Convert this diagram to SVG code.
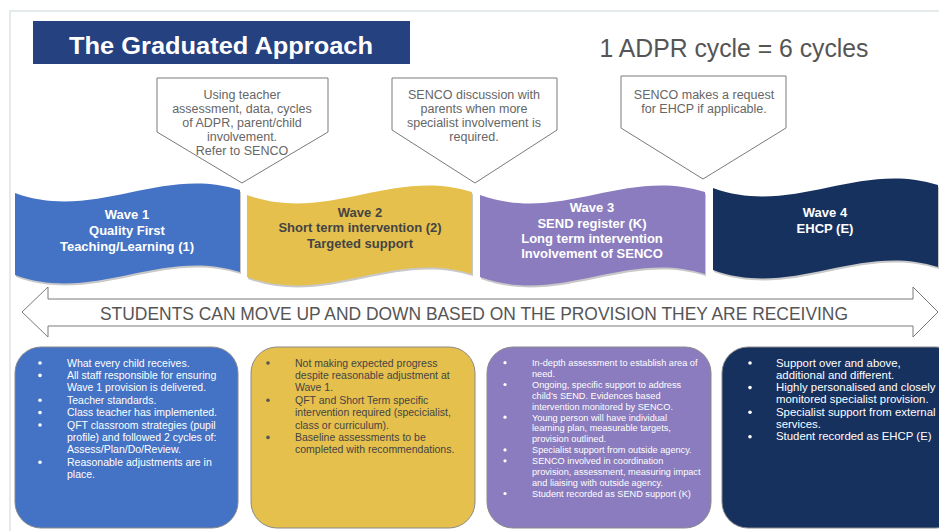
<svg xmlns="http://www.w3.org/2000/svg" width="939" height="531" viewBox="0 0 939 531">
<style>
.callout{fill:#fff;stroke:#7a7a7a;stroke-width:1}
.ct{font-family:"Liberation Sans",Arial,sans-serif;font-size:12.5px;fill:#666;text-anchor:middle}
.wt{font-family:"Liberation Sans",Arial,sans-serif;font-size:13px;font-weight:bold;text-anchor:middle}
.bx{stroke:#8a8a8a;stroke-width:1}
.bt{font-family:"Liberation Sans",Arial,sans-serif}
</style>
<defs>
<path id="wave" d="M0,193 C80,222 145,165 225,190 L225,272 C145,247 80,304 0,275 Z"/>
</defs>
<rect x="0" y="0" width="939" height="531" fill="#fff"/>
<path d="M10,531 L10,11 L939,11" fill="none" stroke="#dde4e6" stroke-width="1.5"/>

<g id="title">
<rect x="33" y="21" width="377" height="43" fill="#25417F"/>
<text x="221" y="54" font-family="'Liberation Sans',Arial,sans-serif" font-size="24" font-weight="bold" fill="#fff" text-anchor="middle" textLength="304" lengthAdjust="spacingAndGlyphs">The Graduated Approach</text>
</g>
<g id="cycle-note">
<text x="734" y="57" font-family="'Liberation Sans',Arial,sans-serif" font-size="25" fill="#555" text-anchor="middle" textLength="269" lengthAdjust="spacingAndGlyphs">1 ADPR cycle = 6 cycles</text>
</g>

<g id="callout1">
<polygon class="callout" points="157,78 328,78 328,132 242,183 157,132"/>
<text class="ct"><tspan x="242" y="99">Using teacher</tspan><tspan x="242" y="113">assessment, data, cycles</tspan><tspan x="242" y="127">of ADPR, parent/child</tspan><tspan x="242" y="141">involvement.</tspan><tspan x="242" y="155">Refer to SENCO</tspan></text>
</g>
<g id="callout2">
<polygon class="callout" points="392,78 557,78 557,130 475,183 392,130"/>
<text class="ct"><tspan x="474" y="99">SENCO discussion with</tspan><tspan x="474" y="113">parents when more</tspan><tspan x="474" y="127">specialist involvement is</tspan><tspan x="474" y="141">required.</tspan></text>
</g>
<g id="callout3">
<polygon class="callout" points="621,76 786,76 786,128 703,179 621,128"/>
<text class="ct"><tspan x="704" y="99">SENCO makes a request</tspan><tspan x="704" y="113">for EHCP if applicable.</tspan></text>
</g>

<g id="wave1">
<use href="#wave" transform="translate(16,2)" fill="#c8c8c8"/>
<use href="#wave" transform="translate(15,0)" fill="#4472C4"/>
<text class="wt" fill="#fff"><tspan x="127" y="219">Wave 1</tspan><tspan x="127" y="235">Quality First</tspan><tspan x="127" y="251">Teaching/Learning (1)</tspan></text>
</g>
<g id="wave2">
<use href="#wave" transform="translate(248,4)" fill="#c8c8c8"/>
<use href="#wave" transform="translate(247,2)" fill="#E5C04D"/>
<text class="wt" fill="#444"><tspan x="360" y="217">Wave 2</tspan><tspan x="360" y="232">Short term intervention (2)</tspan><tspan x="360" y="248">Targeted support</tspan></text>
</g>
<g id="wave3">
<use href="#wave" transform="translate(481,4)" fill="#c8c8c8"/>
<use href="#wave" transform="translate(480,2)" fill="#8A7CBE"/>
<text class="wt" fill="#fff"><tspan x="592" y="212">Wave 3</tspan><tspan x="592" y="228">SEND register (K)</tspan><tspan x="592" y="243">Long term intervention</tspan><tspan x="592" y="258">Involvement of SENCO</tspan></text>
</g>
<g id="wave4">
<use href="#wave" transform="translate(714,-3)" fill="#c8c8c8"/>
<use href="#wave" transform="translate(713,-5)" fill="#17315F"/>
<text class="wt" fill="#fff"><tspan x="825" y="217">Wave 4</tspan><tspan x="825" y="233">EHCP (E)</tspan></text>
</g>

<g id="connectors">
<polygon points="22,312 48,287 48,299 913,299 913,287 938,312 913,337 913,326 48,326 48,337" fill="#fff" stroke="#7a7a7a" stroke-width="1"/>
<text x="474" y="320" font-family="'Liberation Sans',Arial,sans-serif" font-size="18" fill="#555" text-anchor="middle" textLength="748" lengthAdjust="spacingAndGlyphs">STUDENTS CAN MOVE UP AND DOWN BASED ON THE PROVISION THEY ARE RECEIVING</text>
</g>

<g id="box1">
<rect class="bx" x="15" y="347" width="223" height="181" rx="26" fill="#4472C4"/>
<g fill="#fff"><circle cx="40" cy="363" r="1.8"/><circle cx="40" cy="375.4" r="1.8"/><circle cx="40" cy="400.2" r="1.8"/><circle cx="40" cy="412.6" r="1.8"/><circle cx="40" cy="425" r="1.8"/><circle cx="40" cy="462.2" r="1.8"/></g>
<text class="bt" font-size="10.5" fill="#fff"><tspan x="67" y="366.5">What every child receives.</tspan><tspan x="67" y="378.9">All staff responsible for ensuring</tspan><tspan x="67" y="391.3">Wave 1 provision is delivered.</tspan><tspan x="67" y="403.7">Teacher standards.</tspan><tspan x="67" y="416.1">Class teacher has implemented.</tspan><tspan x="67" y="428.5">QFT classroom strategies (pupil</tspan><tspan x="67" y="440.9">profile) and followed 2 cycles of:</tspan><tspan x="67" y="453.3">Assess/Plan/Do/Review.</tspan><tspan x="67" y="465.7">Reasonable adjustments are in</tspan><tspan x="67" y="478.1">place.</tspan></text>
</g>
<g id="box2">
<rect class="bx" x="251" y="347" width="224" height="181" rx="26" fill="#E5C04D"/>
<g fill="#555"><circle cx="268" cy="363" r="1.8"/><circle cx="268" cy="400.2" r="1.8"/><circle cx="268" cy="437.4" r="1.8"/></g>
<text class="bt" font-size="10.5" fill="#444"><tspan x="295" y="366.5">Not making expected progress</tspan><tspan x="295" y="378.9">despite reasonable adjustment at</tspan><tspan x="295" y="391.3">Wave 1.</tspan><tspan x="295" y="403.7">QFT and Short Term specific</tspan><tspan x="295" y="416.1">intervention required (specicialist,</tspan><tspan x="295" y="428.5">class or curriculum).</tspan><tspan x="295" y="440.9">Baseline assessments to be</tspan><tspan x="295" y="453.3">completed with recommendations.</tspan></text>
</g>
<g id="box3">
<rect class="bx" x="487" y="347" width="224" height="181" rx="26" fill="#8A7CBE"/>
<g fill="#fff"><circle cx="505" cy="362.7" r="1.6"/><circle cx="505" cy="384.5" r="1.6"/><circle cx="505" cy="417.2" r="1.6"/><circle cx="505" cy="449.9" r="1.6"/><circle cx="505" cy="460.8" r="1.6"/><circle cx="505" cy="493.5" r="1.6"/></g>
<text class="bt" font-size="9.2" fill="#fff"><tspan x="532" y="366">In-depth assessment to establish area of</tspan><tspan x="532" y="376.9">need.</tspan><tspan x="532" y="387.8">Ongoing, specific support to address</tspan><tspan x="532" y="398.7">child’s SEND. Evidences based</tspan><tspan x="532" y="409.6">intervention monitored by SENCO.</tspan><tspan x="532" y="420.5">Young person will have individual</tspan><tspan x="532" y="431.4">learning plan, measurable targets,</tspan><tspan x="532" y="442.3">provision outlined.</tspan><tspan x="532" y="453.2">Specialist support from outside agency.</tspan><tspan x="532" y="464.1">SENCO involved in coordination</tspan><tspan x="532" y="475">provision, assessment, measuring impact</tspan><tspan x="532" y="485.9">and liaising with outside agency.</tspan><tspan x="532" y="496.8">Student recorded as SEND support (K)</tspan></text>
</g>
<g id="box4">
<rect class="bx" x="722" y="347" width="240" height="181" rx="26" fill="#17315F"/>
<g fill="#fff"><circle cx="750" cy="363" r="1.8"/><circle cx="750" cy="387.6" r="1.8"/><circle cx="750" cy="412.2" r="1.8"/><circle cx="750" cy="436.8" r="1.8"/></g>
<text class="bt" font-size="11.4" fill="#fff"><tspan x="776" y="366.5">Support over and above,</tspan><tspan x="776" y="378.8">additional and different.</tspan><tspan x="776" y="391.1">Highly personalised and closely</tspan><tspan x="776" y="403.4">monitored specialist provision.</tspan><tspan x="776" y="415.7">Specialist support from external</tspan><tspan x="776" y="428">services.</tspan><tspan x="776" y="440.3">Student recorded as EHCP (E)</tspan></text>
</g>
</svg>
